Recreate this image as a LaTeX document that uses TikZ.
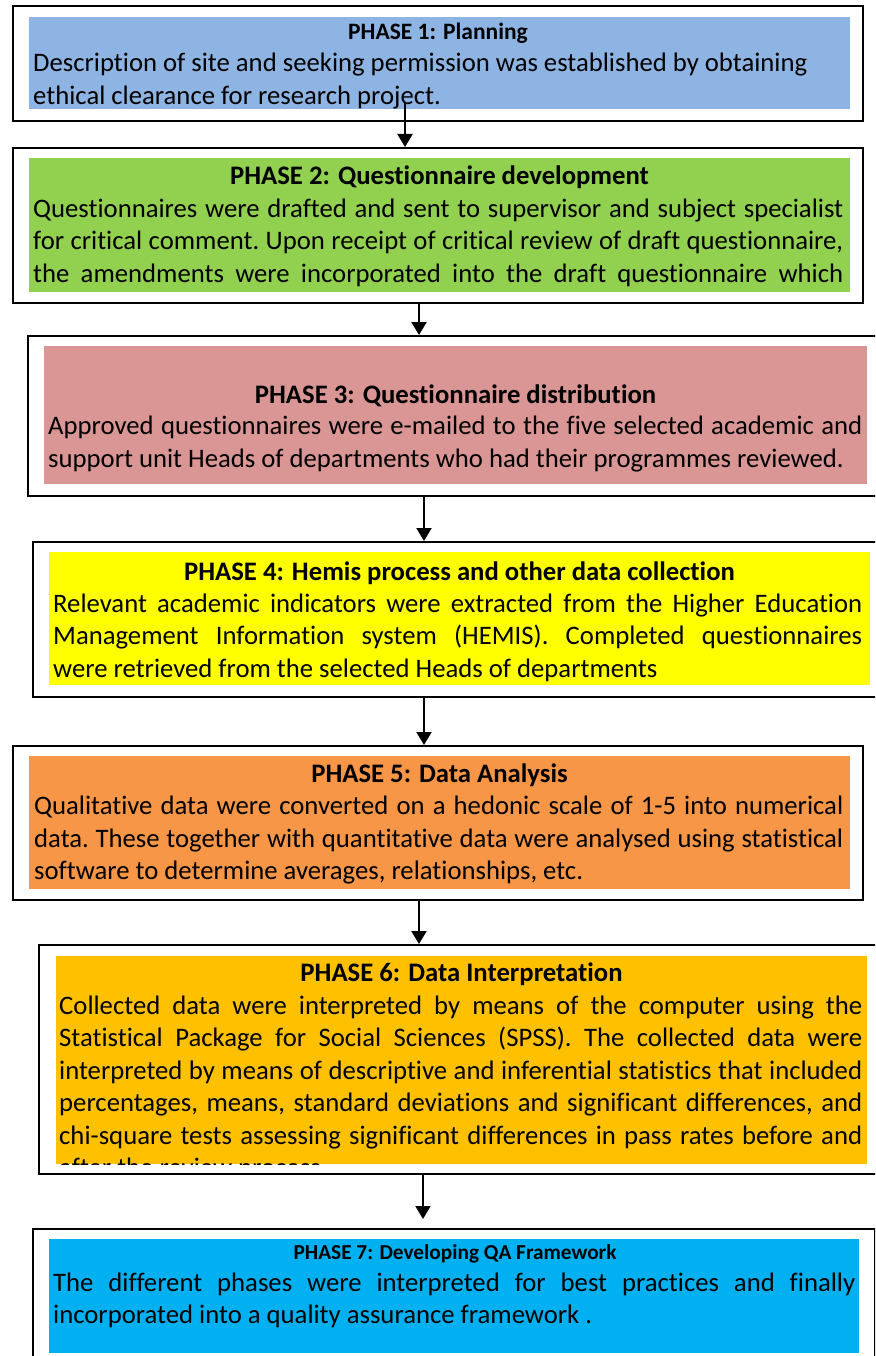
\documentclass[tikz,border=0pt]{standalone}
\usepackage{fontspec}
\setmainfont{Carlito}[Ligatures=NoCommon]
\usetikzlibrary{arrows.meta}
\definecolor{c1}{HTML}{8EB4E3}
\definecolor{c2}{HTML}{92D050}
\definecolor{c3}{HTML}{D99694}
\definecolor{c4}{HTML}{FFFF00}
\definecolor{c5}{HTML}{F79646}
\definecolor{c6}{HTML}{FFC000}
\definecolor{c7}{HTML}{00B0F0}
\newcommand\bodyfont{\fontsize{26.7pt}{32.5pt}\selectfont\frenchspacing}
\newcommand\jline[1]{\makebox[\linewidth][s]{#1}}
\newcommand\nline[1]{\mbox{#1}}
\tikzset{
  obox/.style={draw=black, line width=2pt, anchor=north west, inner sep=0pt},
  fbox/.style={draw=none, anchor=north west, inner sep=0pt},
  ttl/.style={anchor=base, inner sep=0pt, font=\bfseries\fontsize{26.7pt}{32pt}\selectfont},
  body/.style={anchor=base west, inner sep=0pt},
  arr/.style={line width=2pt, -{Triangle[length=13pt,width=15pt]}},
}
\begin{document}
\begin{tikzpicture}[x=1pt,y=-1pt]
\useasboundingbox (0,0) rectangle (875,1356);
\clip (0,0) rectangle (875,1356);
% ---------- Phase 1
\node[obox, minimum width=850pt, minimum height=115pt] (b1) at (12,5) {};
\node[fbox, fill=c1, minimum width=821pt, minimum height=92pt] (f1) at (29,17) {};
\node[ttl, font=\bfseries\fontsize{23.5pt}{27pt}\selectfont] (t1) at (438,40) {PHASE 1: Planning};
\node[body] (d1) at (33,72) {\parbox[t]{815pt}{\bodyfont
\nline{Description of site and seeking permission was established by obtaining}\\
\nline{ethical clearance for research project.}}};
% ---------- Phase 2
\node[obox, minimum width=850pt, minimum height=155pt] (b2) at (12,147) {};
\node[fbox, fill=c2, minimum width=821pt, minimum height=134pt] (f2) at (29,158) {};
\node[ttl] (t2) at (439.5,185) {PHASE 2: Questionnaire development};
\node[body] (d2) at (33,217.5) {\parbox[t]{810pt}{\bodyfont
\jline{Questionnaires were drafted and sent to supervisor and subject specialist}\\
\jline{for critical comment. Upon receipt of critical review of draft questionnaire,}\\
\jline{the amendments were incorporated into the draft questionnaire which}}};
% ---------- Phase 3
\node[obox, minimum width=863pt, minimum height=160pt] (b3) at (27,335) {};
\node[fbox, fill=c3, minimum width=823pt, minimum height=138pt] (f3) at (44,346) {};
\node[ttl] (t3) at (455.5,403) {PHASE 3: Questionnaire distribution};
\node[body] (d3) at (48,434.5) {\parbox[t]{814pt}{\bodyfont
\jline{Approved questionnaires were e-mailed to the five selected academic and}\\
\nline{support unit Heads of departments who had their programmes reviewed.}}};
% ---------- Phase 4
\node[obox, minimum width=858pt, minimum height=155pt] (b4) at (32,541) {};
\node[fbox, fill=c4, minimum width=821pt, minimum height=133pt] (f4) at (49,552) {};
\node[ttl] (t4) at (459.5,580) {PHASE 4: Hemis process and other data collection};
\node[body] (d4) at (53,612) {\parbox[t]{809pt}{\bodyfont
\jline{Relevant academic indicators were extracted from the Higher Education}\\
\jline{Management Information system (HEMIS). Completed questionnaires}\\
\nline{were retrieved from the selected Heads of departments}}};
% ---------- Phase 5
\node[obox, minimum width=850pt, minimum height=154pt] (b5) at (12,745) {};
\node[fbox, fill=c5, minimum width=821pt, minimum height=133pt] (f5) at (29,756) {};
\node[ttl] (t5) at (439.5,782) {PHASE 5: Data Analysis};
\node[body] (d5) at (34,814.5) {\parbox[t]{809pt}{\bodyfont
\jline{Qualitative data were converted on a hedonic scale of 1-5 into numerical}\\
\jline{data. These together with quantitative data were analysed using statistical}\\
\nline{software to determine averages, relationships, etc.}}};
% ---------- Phase 6
\node[obox, minimum width=852pt, minimum height=229pt] (b6) at (38,944) {};
\node[fbox, fill=c6, minimum width=811pt, minimum height=208pt] (f6) at (56,956) {};
\node[ttl] (t6) at (461.5,981) {PHASE 6: Data Interpretation};
\begin{scope}
\clip (f6.north west) rectangle (f6.south east);
\node[body] (d6) at (59,1014) {\parbox[t]{803pt}{\bodyfont
\jline{Collected data were interpreted by means of the computer using the}\\
\jline{Statistical Package for Social Sciences (SPSS). The collected data were}\\
\jline{interpreted by means of descriptive and inferential statistics that included}\\
\jline{percentages, means, standard deviations and significant differences, and}\\
\jline{chi-square tests assessing significant differences in pass rates before and}\\
\nline{after the review process}}};
\end{scope}
% ---------- Phase 7
\node[obox, minimum width=842pt, minimum height=150pt] (b7) at (32,1228) {};
\node[fbox, fill=c7, minimum width=810pt, minimum height=114pt] (f7) at (49,1239) {};
\node[ttl, font=\bfseries\fontsize{21.3pt}{25pt}\selectfont] (t7) at (455,1259) {PHASE 7: Developing QA Framework};
\node[body] (d7) at (53,1291) {\parbox[t]{802pt}{\bodyfont
\jline{The different phases were interpreted for best practices and finally}\\
\nline{incorporated into a quality assurance framework .}}};
% ---------- connectors
\coordinate (s1) at (405,103);
\coordinate (x2) at (419,0);
\coordinate (x3) at (424,0);
\coordinate (x5) at (419,0);
\coordinate (x6) at (423,0);
\coordinate (e6) at (423,1219);
\draw[arr] (s1) -- (s1 |- b2.north);
\draw[arr] (x2 |- b2.south) -- (x2 |- b3.north);
\draw[arr] (x3 |- b3.south) -- (x3 |- b4.north);
\draw[arr] (x3 |- b4.south) -- (x3 |- b5.north);
\draw[arr] (x5 |- b5.south) -- (x5 |- b6.north);
\draw[arr] (x6 |- b6.south) -- (e6);
\end{tikzpicture}
\end{document}
